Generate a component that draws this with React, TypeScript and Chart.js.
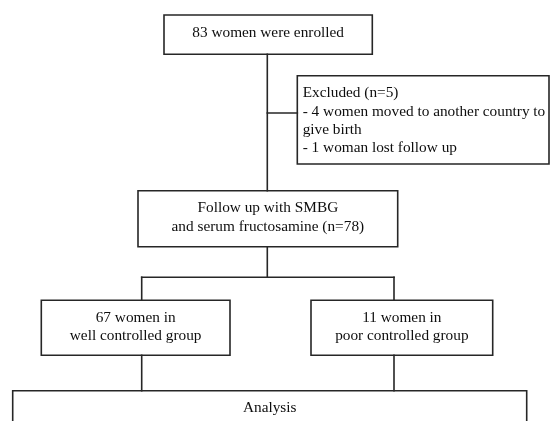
import React, { useEffect, useRef } from "react";
import { Chart, registerables } from "chart.js";

Chart.register(...registerables);

// ---- Content (text of each step in the flow) ----
const enrolledText = ["83 women were enrolled"];
const excludedText = [
  "Excluded (n=5)",
  "- 4 women moved to another country to",
  "give birth",
  "- 1 woman lost follow up",
];
const followUpText = ["Follow up with SMBG", "and serum fructosamine (n=78)"];
const wellText = ["67 women in", "well controlled group"];
const poorText = ["11 women in", "poor controlled group"];
const analysisText = ["Analysis"];

const stepTexts = [enrolledText, excludedText, followUpText, wellText, poorText, analysisText];

// ---- Layout (axis units = page pixels) ----
const LAYOUT = {
  boxes: [
    { x0: 164, x1: 372.3, y0: 15, y1: 54.3, align: "center" },
    { x0: 297.3, x1: 549, y0: 75.7, y1: 164, align: "left" },
    { x0: 138, x1: 397.7, y0: 190.7, y1: 246.7, align: "center" },
    { x0: 41.3, x1: 230, y0: 300.3, y1: 355.3, align: "center" },
    { x0: 311, x1: 492.7, y0: 300.3, y1: 355.3, align: "center" },
    { x0: 12.7, x1: 526.7, y0: 390.7, y1: 470, align: "center" },
  ],
  edges: [
    [[267.3, 54.3], [267.3, 190.7]],
    [[267.3, 113], [297.3, 113]],
    [[267.3, 246.7], [267.3, 277.3]],
    [[141.7, 277.3], [394, 277.3]],
    [[141.7, 277.3], [141.7, 300.3]],
    [[394, 277.3], [394, 300.3]],
    [[141.7, 355.3], [141.7, 390.7]],
    [[394, 355.3], [394, 390.7]],
  ],
  firstBaseline: 21.5,
  lineHeight: 18.3,
  leftPad: 5.4,
};

const STYLE = {
  line: "#262626",
  lineWidth: 1.6,
  text: "#0d0d0d",
  font: '15.3px "Liberation Serif", "Times New Roman", serif',
};

const textPlugin = {
  id: "flowText",
  afterDatasetsDraw(chart: any) {
    const { ctx, scales } = chart;
    const xs = scales.x;
    const ys = scales.y;
    ctx.save();
    ctx.font = STYLE.font;
    ctx.fillStyle = STYLE.text;
    ctx.textBaseline = "alphabetic";
    LAYOUT.boxes.forEach((b, i) => {
      const lines = stepTexts[i];
      lines.forEach((t, j) => {
        const y = ys.getPixelForValue(b.y0 + LAYOUT.firstBaseline + j * LAYOUT.lineHeight);
        if (b.align === "left") {
          ctx.textAlign = "left";
          ctx.fillText(t, xs.getPixelForValue(b.x0 + LAYOUT.leftPad), y);
        } else {
          ctx.textAlign = "center";
          ctx.fillText(t, xs.getPixelForValue((b.x0 + b.x1) / 2), y);
        }
      });
    });
    ctx.restore();
  },
};

export default function App() {
  const ref = useRef<HTMLCanvasElement | null>(null);

  useEffect(() => {
    if (!ref.current) return;
    const boxSets = LAYOUT.boxes.map((b) => ({
      data: [
        { x: b.x0, y: b.y0 },
        { x: b.x1, y: b.y0 },
        { x: b.x1, y: b.y1 },
        { x: b.x0, y: b.y1 },
        { x: b.x0, y: b.y0 },
      ],
    }));
    const edgeSets = LAYOUT.edges.map((e) => ({
      data: e.map(([x, y]) => ({ x, y })),
    }));
    const datasets = [...boxSets, ...edgeSets].map((d) => ({
      ...d,
      showLine: true,
      pointRadius: 0,
      borderColor: STYLE.line,
      borderWidth: STYLE.lineWidth,
      borderJoinStyle: "miter",
      borderCapStyle: "square",
      fill: false,
      tension: 0,
    }));

    const chart = new Chart(ref.current, {
      type: "scatter",
      data: { datasets: datasets as any },
      options: {
        animation: false,
        responsive: false,
        events: [],
        layout: { padding: 0 },
        plugins: { legend: { display: false }, tooltip: { enabled: false } },
        scales: {
          x: { type: "linear", min: 0, max: 550, display: false },
          y: { type: "linear", min: 0, max: 421, reverse: true, display: false },
        },
      } as any,
      plugins: [textPlugin],
    });
    return () => chart.destroy();
  }, []);

  return (
    <div style={{ position: "fixed", left: 0, top: 0, width: 550, height: 421, background: "#fff" }}>
      <canvas ref={ref} width={550} height={421} style={{ width: 550, height: 421, display: "block" }} />
    </div>
  );
}
